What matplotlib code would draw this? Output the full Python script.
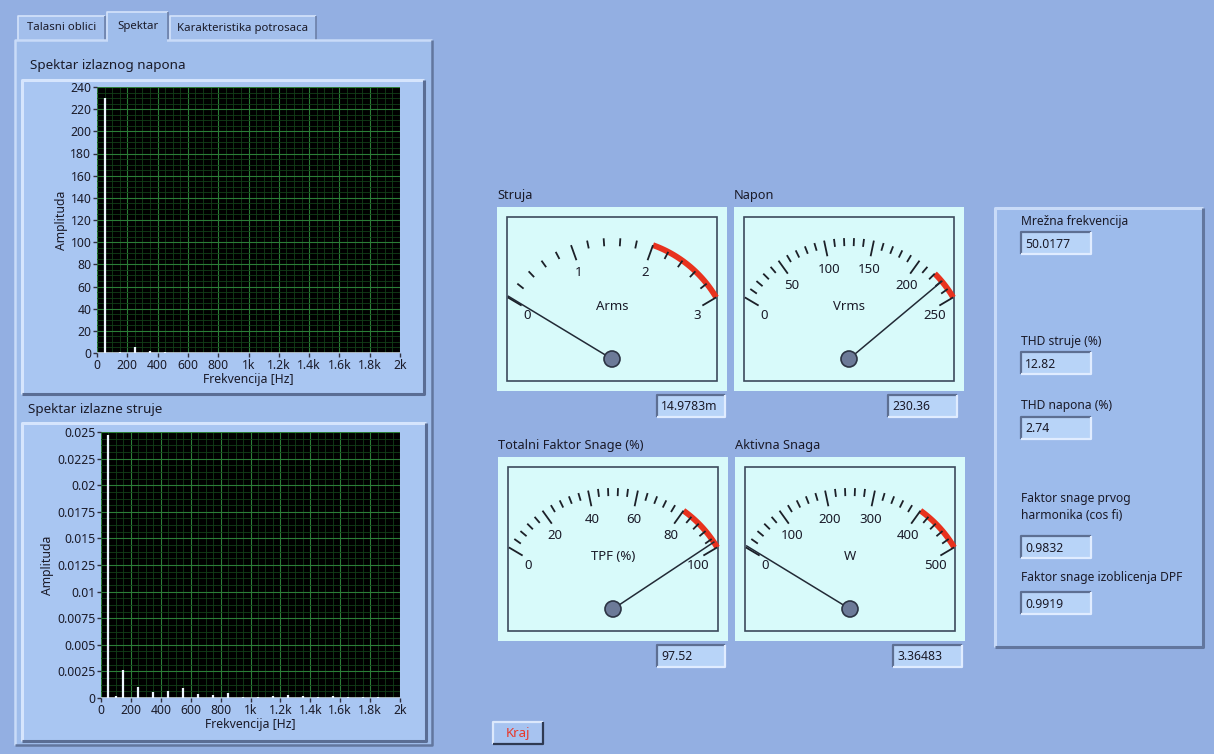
import numpy as np
import matplotlib
matplotlib.use("Agg")
import matplotlib.pyplot as plt
from matplotlib.patches import Rectangle, Circle
from matplotlib.ticker import MultipleLocator, FixedLocator, FixedFormatter

plt.rcParams['font.family'] = ['Noto Sans', 'DejaVu Sans']

# spectrum data
v_freq = [50, 150, 250, 350, 450]
v_amp = [230, 1.2, 5.8, 1.5, 1.2]
i_freq = [50, 100, 150, 250, 350, 450, 550, 650, 750, 850, 950, 1050,
          1150, 1250, 1350, 1450, 1550, 1650, 1750, 1850]
i_amp = [0.0247, 0.0002, 0.0026, 0.0010, 0.0006, 0.0007, 0.0009, 0.0004,
         0.0003, 0.0005, 0.0001, 0.0001, 0.0002, 0.0003, 0.0002, 0.0001,
         0.0002, 0.0001, 0.0001, 0.0001]
x_ticks = [0, 200, 400, 600, 800, 1000, 1200, 1400, 1600, 1800, 2000]
x_ticklabels = ['0', '200', '400', '600', '800', '1k', '1.2k', '1.4k', '1.6k', '1.8k', '2k']
i_ticks = [0, 0.0025, 0.005, 0.0075, 0.01, 0.0125, 0.015, 0.0175, 0.02, 0.0225, 0.025]
i_ticklabels = ['0', '0.0025', '0.005', '0.0075', '0.01', '0.0125', '0.015',
                '0.0175', '0.02', '0.0225', '0.025']

# gauges
gauge_titles = ['Struja', 'Napon', 'Totalni Faktor Snage (%)', 'Aktivna Snaga']
gauge_units = ['Arms', 'Vrms', 'TPF (%)', 'W']
gauge_max = [3, 250, 100, 500]
gauge_major = [1, 50, 20, 100]
gauge_red = [2, 220, 80, 400]
gauge_values = [0.0149783, 230.36, 97.52, 3.36483]
gauge_readouts = ['14.9783m', '230.36', '97.52', '3.36483']

# indicators on the right
info_labels = ['Mrežna frekvencija', 'THD struje (%)', 'THD napona (%)',
               'Faktor snage prvog\nharmonika (cos fi)', 'Faktor snage izoblicenja DPF']
info_values = ['50.0177', '12.82', '2.74', '0.9832', '0.9919']
tab_names = ['Talasni oblici', 'Spektar', 'Karakteristika potrosaca']

W, H = 1214, 754
BG = '#93afe2'
PANEL = '#9fbdeb'
FRAME = '#a9c6f2'
FACE = '#d8fafa'
BOX = '#b8d4f8'
TXT = '#1a1a28'

fig = plt.figure(figsize=(W / 100, H / 100), dpi=100)
fig.patch.set_facecolor(BG)
bg = fig.add_axes([0, 0, 1, 1])
bg.set_xlim(0, W)
bg.set_ylim(H, 0)
bg.axis('off')

z = [1]


def nz():
    z[0] += 1
    return z[0]


def bevel(x, y, w, h, fc, light, dark, lw=1.5, raised=True):
    bg.add_patch(Rectangle((x, y), w, h, facecolor=fc, edgecolor='none', zorder=nz()))
    hi, lo = (light, dark) if raised else (dark, light)
    zz = nz()
    bg.plot([x, x, x + w], [y + h, y, y], color=hi, lw=lw, zorder=zz, solid_capstyle='butt')
    bg.plot([x, x + w, x + w], [y + h, y + h, y], color=lo, lw=lw, zorder=zz, solid_capstyle='butt')


def readout(x, y, w, h, s):
    bevel(x, y, w, h, BOX, '#e0ecff', '#5d6f92', lw=1.6, raised=False)
    bg.text(x + 4, y + h / 2 + 1, s, fontsize=8.8, color=TXT, va='center', ha='left', zorder=nz())


def px_axes(x, y, w, h):
    return fig.add_axes([x / W, 1 - (y + h) / H, w / W, h / H])


# tabs
tab_box = [(18, 16, 87, 25), (107, 12, 61, 30), (170, 16, 146, 25)]
for (tx, ty, tw, th), name in zip(tab_box, tab_names):
    fc = PANEL if name == 'Spektar' else '#a3bfec'
    bevel(tx, ty, tw, th, fc, '#d4e3fb', '#6c80a8', lw=1.2)
    bg.text(tx + tw / 2, 28 if name != 'Spektar' else 26, name, fontsize=8.2,
            color=TXT, ha='center', va='center', zorder=nz())

# tab panel
bevel(15, 40, 417, 705, PANEL, '#c9dbf8', '#62769e', lw=1.8)
bg.add_patch(Rectangle((108, 38), 59, 4, facecolor=PANEL, edgecolor='none', zorder=nz()))

bg.text(30, 66, 'Spektar izlaznog napona', fontsize=9.7, color=TXT, va='center', zorder=nz())
bg.text(28, 410, 'Spektar izlazne struje', fontsize=9.7, color=TXT, va='center', zorder=nz())
bevel(22, 80, 402, 314, FRAME, '#d6e5fd', '#5a6d94', lw=2.2)
bevel(22, 423, 404, 318, FRAME, '#d6e5fd', '#5a6d94', lw=2.2)


def spectrum(ax, freq, amp, ymax, ymaj):
    ax.set_facecolor('black')
    ax.axhline(0, color='#c8d2dc', lw=1.2, zorder=2)
    ax.vlines(freq, 0, amp, color='#eef6ff', lw=1.6, zorder=3)
    ax.set_xlim(0, 2000)
    ax.set_ylim(0, ymax)
    ax.xaxis.set_major_locator(FixedLocator(x_ticks))
    ax.xaxis.set_major_formatter(FixedFormatter(x_ticklabels))
    ax.xaxis.set_minor_locator(MultipleLocator(50))
    ax.yaxis.set_minor_locator(MultipleLocator(ymaj / 4))
    ax.grid(True, which='major', color='#2b7d37', lw=0.8)
    ax.grid(True, which='minor', color='#133f18', lw=0.6)
    ax.set_axisbelow(True)
    ax.tick_params(which='minor', length=0)
    ax.tick_params(which='major', length=3, width=1, color='#303040', labelsize=8.8,
                   labelcolor=TXT, pad=1)
    for s in ax.spines.values():
        s.set_visible(False)
    ax.set_xlabel('Frekvencija [Hz]', fontsize=8.8, color=TXT, labelpad=1)
    ax.set_ylabel('Amplituda', fontsize=8.8, color=TXT, labelpad=2)


ax1 = px_axes(97, 87, 303, 266)
spectrum(ax1, v_freq, v_amp, 240, 20)
ax1.yaxis.set_major_locator(MultipleLocator(20))

ax2 = px_axes(101, 432, 299, 266)
spectrum(ax2, i_freq, i_amp, 0.025, 0.0025)
ax2.yaxis.set_major_locator(FixedLocator(i_ticks))
ax2.yaxis.set_major_formatter(FixedFormatter(i_ticklabels))

# gauges
g_pos = [(497, 207), (734, 207), (498, 457), (735, 457)]
r_pos = [(657, 395, 68, 22), (888, 395, 69, 22), (657, 645, 68, 22), (893, 645, 69, 22)]
A0, A1 = 149.4, 30.6
R = 121


def ang(v, vmax):
    return np.radians(A0 - (A0 - A1) * v / vmax)


for i in range(4):
    gx, gy = g_pos[i]
    vmax, maj = gauge_max[i], gauge_major[i]
    bg.text(gx, gy - 11, gauge_titles[i], fontsize=9.2, color=TXT, va='center', zorder=nz())
    bg.add_patch(Rectangle((gx, gy), 230, 184, facecolor=FACE, edgecolor='none', zorder=nz()))
    bg.add_patch(Rectangle((gx + 10, gy + 10), 210, 164, facecolor='none',
                           edgecolor='#3c4a5c', lw=1.2, zorder=nz()))
    cx, cy = gx + 115, gy + 152
    # red zone along the outer edge of the scale
    t = np.linspace(ang(gauge_red[i], vmax), ang(vmax, vmax), 40)
    bg.plot(cx + R * np.cos(t), cy - R * np.sin(t), color='#e8321e', lw=4.2,
            solid_capstyle='butt', zorder=nz())
    zz = nz()
    step = maj / 5
    for k in range(int(round(vmax / step)) + 1):
        v = k * step
        a = ang(v, vmax)
        major = k % 5 == 0
        r_in = 105 if major else 113
        bg.plot([cx + r_in * np.cos(a), cx + R * np.cos(a)],
                [cy - r_in * np.sin(a), cy - R * np.sin(a)],
                color='#1c2028', lw=1.3, zorder=zz, solid_capstyle='butt')
        if major:
            lbl = str(int(v)) if float(v).is_integer() else str(v)
            bg.text(cx + 99 * np.cos(a), cy - 99 * np.sin(a) + 7, lbl, fontsize=9.5,
                    color=TXT, ha='center', va='center', zorder=zz)
    bg.text(cx, cy - 52, gauge_units[i], fontsize=9.5, color=TXT, ha='center', va='center', zorder=nz())
    a = ang(gauge_values[i], vmax)
    bg.plot([cx, cx + R * np.cos(a)], [cy, cy - R * np.sin(a)], color='#222a36', lw=1.1, zorder=nz())
    bg.add_patch(Circle((cx, cy), 8, facecolor='#6c7a98', edgecolor='#2c3444', lw=1.2, zorder=nz()))
    readout(*r_pos[i], gauge_readouts[i])

# right panel with indicators
bevel(995, 208, 208, 439, '#9dbbeb', '#c9dbf8', '#62769e', lw=2.2)
lab_y = [222, 341, 406, 507, 578]
box_y = [232, 352, 417, 536, 592]
for lbl, val, ly, by in zip(info_labels, info_values, lab_y, box_y):
    bg.text(1021, ly, lbl, fontsize=8.7, color=TXT, va='center', ha='left',
            linespacing=1.45, zorder=nz())
    readout(1021, by, 70, 22, val)

# stop button
bevel(493, 722, 50, 22, '#a7c3f0', '#dce8fc', '#2f3a52', lw=1.6)
bg.text(518, 733, 'Kraj', fontsize=9.5, color='#e8382a', ha='center', va='center', zorder=nz())

fig.savefig('out.png', dpi=100, facecolor=BG)
